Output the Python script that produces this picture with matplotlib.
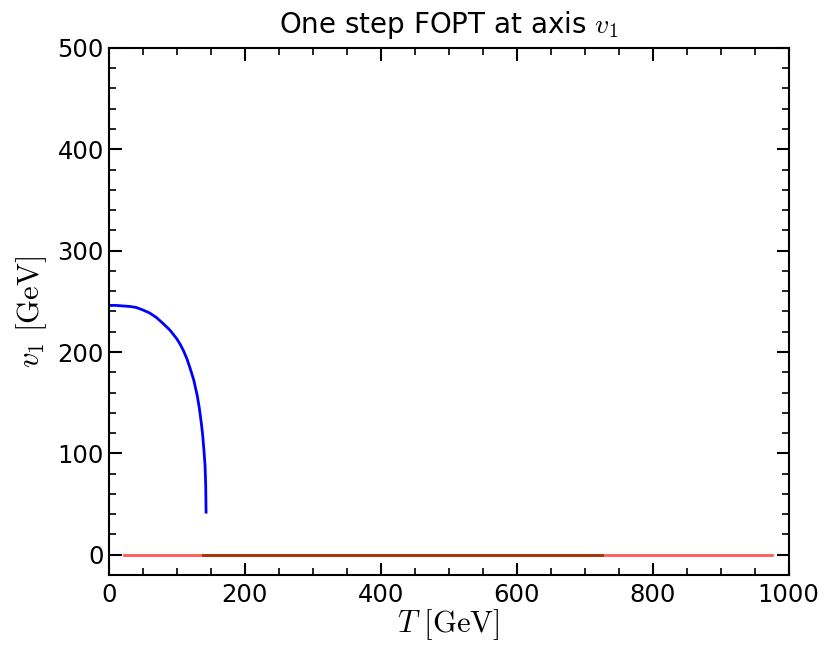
import matplotlib
matplotlib.use("Agg")
import matplotlib.pyplot as plt
from matplotlib.ticker import MultipleLocator

plt.rcParams["mathtext.fontset"] = "cm"

# Blue phase (broken phase) v1 vs T
T_blue = [0, 10, 20, 30, 40, 50, 60, 70, 80, 90, 100, 105, 110, 115, 120, 125, 130,
          133, 136, 138, 140, 141.5, 142.5, 143]
v_blue = [246, 246, 245.5, 245, 244, 241.5, 238.5, 234, 228, 221.5, 213, 207.5, 201,
          193, 183, 172, 157, 145, 130, 118, 102, 88, 68, 42]

# Symmetric phases (v1 = 0)
T_red = [23, 976]
v_red = [0, 0]
T_brown = [138, 726]
v_brown = [0, 0]

fig = plt.figure(figsize=(8.31, 6.63), dpi=100)
ax = fig.add_axes([0.131, 0.1327, 0.818, 0.795])

ax.plot(T_red, v_red, color="#ff5a5a", lw=2)
ax.plot(T_brown, v_brown, color="#a83200", lw=2)
ax.plot(T_blue, v_blue, color="#0000ff", lw=2)

ax.set_xlim(0, 1000)
ax.set_ylim(-20, 500)
ax.xaxis.set_major_locator(MultipleLocator(200))
ax.xaxis.set_minor_locator(MultipleLocator(50))
ax.yaxis.set_major_locator(MultipleLocator(100))
ax.yaxis.set_minor_locator(MultipleLocator(20))
ax.tick_params(which="both", direction="in", top=True, right=True, labelsize=17.5)
ax.tick_params(which="major", length=9, width=1.5)
ax.tick_params(which="minor", length=5, width=1.2)
ax.tick_params(axis="x", pad=6)
for s in ax.spines.values():
    s.set_linewidth(1.5)

ax.set_xlabel(r"$T\ [\mathrm{GeV}]$", fontsize=22, labelpad=0)
ax.set_ylabel(r"$v_1\ [\mathrm{GeV}]$", fontsize=22, labelpad=6)
ax.set_title(r"One step FOPT at axis $v_1$", fontsize=20, pad=11)

fig.savefig("out.png", dpi=100)
